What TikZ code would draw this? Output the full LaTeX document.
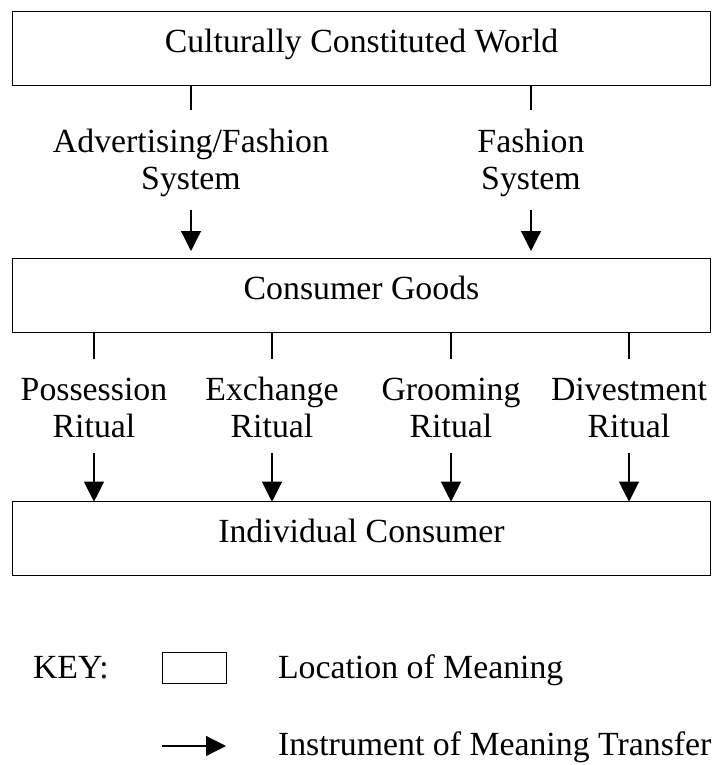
\documentclass[tikz,border=0pt]{standalone}
\usepackage{fontspec}
\setmainfont{Liberation Serif}
\usetikzlibrary{arrows.meta}
\newcommand\twoln[2]{\begin{tabular}[t]{@{}c@{}}#1\\#2\end{tabular}}
\begin{document}
\begin{tikzpicture}[x=1pt,y=-1pt,
  every node/.style={font=\fontsize{33.8}{37}\selectfont, inner sep=0pt, outer sep=0pt},
  locbox/.style={draw, line width=1.4pt, minimum width=698pt, minimum height=74pt, text height=22pt, text depth=13.7pt},
  lbl/.style={anchor=base},
  link/.style={line width=1.2pt},
  arr/.style={line width=1.2pt, -{Triangle[length=20pt,width=20pt]}},
]
\useasboundingbox (0,0) rectangle (714,765);
% locations of meaning
\node[locbox] (world) at (361.5,48.5) {Culturally Constituted World};
\node[locbox] (goods) at (361.5,295.3) {Consumer Goods};
\node[locbox] (cons) at (361.5,538.7) {Individual Consumer};
% instruments between world and goods
\node[lbl] (adv) at (191,152) {\twoln{Advertising/Fashion}{System}};
\node[lbl] (fas) at (531,152) {\twoln{Fashion}{System}};
\foreach \n in {adv,fas}{
  \draw[link, shorten >=16pt] (world.south -| \n.base) -- (\n.north);
  \draw[arr, shorten <=10pt, shorten >=7.3pt] (\n.south) -- (goods.north -| \n.base);
}
% rituals between goods and consumer
\node[lbl] (pos) at (94,400) {\twoln{Possession}{Ritual}};
\node[lbl] (exc) at (272,400) {\twoln{Exchange}{Ritual}};
\node[lbl] (gro) at (451,400) {\twoln{Grooming}{Ritual}};
\node[lbl] (div) at (629,400) {\twoln{Divestment}{Ritual}};
\foreach \n in {pos,exc,gro,div}{
  \draw[link, shorten >=15pt] (goods.south -| \n.base) -- (\n.north);
  \draw[arr, shorten <=5pt] (\n.south) -- (cons.north -| \n.base);
}
% key
\node[anchor=base west] (key) at (33,678) {KEY:};
\node[draw, line width=1.4pt, minimum width=63.6pt, minimum height=30.6pt] (keybox) at (194.5,668) {};
\node[anchor=base west] (loc) at (278,678.3) {Location of Meaning};
\node[anchor=base west] (instr) at (278,755) {Instrument of Meaning Transfer};
\coordinate (ka) at (162,746);
\coordinate (kb) at (226,746);
\draw[arr] (ka) -- (kb);
\end{tikzpicture}
\end{document}
